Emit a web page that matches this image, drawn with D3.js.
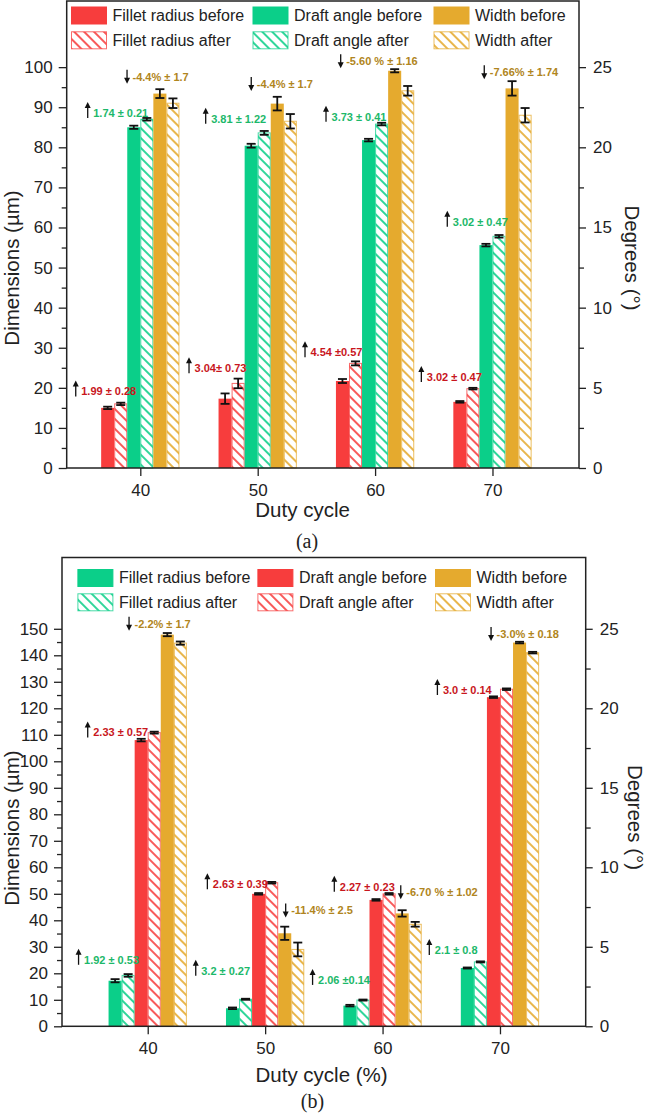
<!DOCTYPE html>
<html lang="en">
<head>
<meta charset="UTF-8">
<title>Dimensions vs duty cycle</title>
<style>
  body { margin: 0; background: #fff; }
  svg { display: block; font-family: "Liberation Sans", Arial, sans-serif; }
</style>
</head>
<body>
<div id="chart"></div>
<script src="https://cdn.jsdelivr.net/npm/d3@7"></script>
<script>
  // ---- shared ----
  const dutyCycles = [40, 50, 60, 70];
  const seriesNames = ["Fillet radius before", "Fillet radius after", "Draft angle before",
    "Draft angle after", "Width before", "Width after"];
  const rightTicks = [0, 5, 10, 15, 20, 25];
  const rightMinor = [2.5, 7.5, 12.5, 17.5, 22.5];

  // ---- panel (a) : fillet/width in µm, draft angle in degrees ----
  const aFilletBefore = [15.0, 17.3, 21.7, 16.5];
  const aFilletBeforeErr = [0.3, 1.3, 0.5, 0.2];
  const aFilletAfter = [16.0, 21.1, 26.1, 19.8];
  const aFilletAfterErr = [0.3, 1.2, 0.5, 0.2];
  const aDraftBefore = [21.25, 20.1, 20.45, 13.9];
  const aDraftBeforeErr = [0.1, 0.12, 0.08, 0.08];
  const aDraftAfter = [21.75, 20.9, 21.45, 14.45];
  const aDraftAfterErr = [0.08, 0.12, 0.08, 0.08];
  const aWidthBefore = [93.4, 90.9, 99.1, 94.7];
  const aWidthBeforeErr = [1.1, 1.7, 0.4, 1.8];
  const aWidthAfter = [91.0, 86.5, 94.1, 88.0];
  const aWidthAfterErr = [1.2, 1.8, 1.2, 1.8];
  const aLeftTicks = [0, 10, 20, 30, 40, 50, 60, 70, 80, 90, 100];
  const aLeftMinor = [5, 15, 25, 35, 45, 55, 65, 75, 85, 95];

  const aWidthNotes = ["-4.4%  \u00b1 1.7", "-4.4%  \u00b1 1.7", "-5.60 % \u00b1 1.16", "-7.66% \u00b1 1.74"];
  const aWidthNoteX = [38.87, 49.45, 57.07, 69.30];
  const aWidthNoteY = [97.6, 95.8, 101.5, 98.7];
  const aDraftNotes = ["1.74 \u00b1 0.21", "3.81 \u00b1 1.22", "3.73 \u00b1 0.41", "3.02 \u00b1 0.47"];
  const aDraftNoteX = [35.52, 45.57, 55.82, 66.15];
  const aDraftNoteY = [88.55, 87.1, 87.6, 61.4];
  const aFilletNotes = ["1.99 \u00b1 0.28", "3.04\u00b1 0.73", "4.54 \u00b10.57", "3.02 \u00b1 0.47"];
  const aFilletNoteX = [34.50, 44.15, 54.03, 63.94];
  const aFilletNoteY = [19.1, 24.9, 28.9, 22.7];

  // ---- panel (b) ----
  const bFilletBefore = [17.2, 6.8, 7.8, 22.0];
  const bFilletBeforeErr = [0.6, 0.3, 0.3, 0.2];
  const bFilletAfter = [19.2, 10.2, 9.9, 24.3];
  const bFilletAfterErr = [0.5, 0.2, 0.2, 0.2];
  const bDraftBefore = [18.0, 8.33, 7.95, 20.7];
  const bDraftBeforeErr = [0.08, 0.05, 0.05, 0.05];
  const bDraftAfter = [18.47, 9.03, 8.33, 21.2];
  const bDraftAfterErr = [0.06, 0.05, 0.05, 0.05];
  const bWidthBefore = [147.8, 35.1, 42.6, 144.8];
  const bWidthBeforeErr = [0.6, 2.5, 1.2, 0.3];
  const bWidthAfter = [144.6, 29.0, 38.5, 141.0];
  const bWidthAfterErr = [0.6, 2.6, 0.9, 0.3];
  const bLeftTicks = [0, 10, 20, 30, 40, 50, 60, 70, 80, 90, 100, 110, 120, 130, 140, 150];
  const bLeftMinor = [5, 15, 25, 35, 45, 55, 65, 75, 85, 95, 105, 115, 125, 135, 145];

  const bWidthNotes = ["-2.2%  \u00b1 1.7", "-11.4% \u00b1 2.5", "-6.70 % \u00b1 1.02", "-3.0% \u00b1 0.18"];
  const bWidthNoteX = [38.41, 51.75, 61.55, 69.24];
  const bWidthNoteY = [151.9, 43.7, 50.6, 148.0];
  const bDraftNotes = ["2.33 \u00b1 0.57", "2.63 \u00b1 0.39", "2.27 \u00b1 0.23", "3.0 \u00b1 0.14"];
  const bDraftNoteX = [34.89, 45.08, 55.89, 64.67];
  const bDraftNoteY = [110.9, 53.6, 52.7, 126.9];
  const bFilletNotes = ["1.92 \u00b1 0.53", "3.2 \u00b1 0.27", "2.06 \u00b10.14", "2.1 \u00b1  0.8"];
  const bFilletNoteX = [34.11, 44.09, 54.04, 63.98];
  const bFilletNoteY = [25.1, 21.0, 17.5, 28.8];

  const colors = { red: "#f73d3d", green: "#0bcf89", gold: "#e5aa2e" };
  const noteColors = { red: "#c8161d", green: "#1cb86a", gold: "#b08520" };
  const ink = "#222";

  const svg = d3.select("#chart").append("svg")
    .attr("width", 649)
    .attr("height", 1116);

  // hatch patterns for the "after" bars
  const defs = svg.append("defs");
  Object.keys(colors).forEach(function(name) {
    const p = defs.append("pattern")
      .attr("id", "hatch-" + name)
      .attr("patternUnits", "userSpaceOnUse")
      .attr("width", 7).attr("height", 7)
      .attr("patternTransform", "rotate(-45)");
    p.append("rect").attr("width", 7).attr("height", 7).attr("fill", "#fff");
    p.append("line")
      .attr("x1", 2).attr("y1", 0).attr("x2", 2).attr("y2", 7)
      .attr("stroke", colors[name]).attr("stroke-width", 1.7);
  });

  function drawPanel(p) {
    const g = svg.append("g");

    const x = d3.scaleLinear().domain(p.xDomain).range([p.left, p.right]);
    const yL = d3.scaleLinear().domain([0, p.leftMax]).range([p.bottom, p.top]);
    const yR = d3.scaleLinear().domain([0, p.leftMax / p.ratio]).range([p.bottom, p.top]);
    const band = d3.scaleBand().domain(seriesNames).range([-3.335, 3.335]);
    const bw = x(40 + band.bandwidth()) - x(40);

    // bars
    p.series.forEach(function(s, k) {
      const y = s.axis === "left" ? yL : yR;
      const bars = g.append("g");
      bars.selectAll("rect")
        .data(s.values)
        .join("rect")
        .attr("x", (d, i) => x(dutyCycles[i] + band(seriesNames[k])) + (s.hatch ? 0.5 : 0))
        .attr("y", d => y(d))
        .attr("width", bw - (s.hatch ? 1 : 0))
        .attr("height", d => p.bottom - y(d))
        .attr("fill", s.hatch ? "url(#hatch-" + s.color + ")" : colors[s.color])
        .attr("stroke", s.hatch ? colors[s.color] : "none")
        .attr("stroke-opacity", 0.75)
        .attr("stroke-width", 1);

      // error bars
      const eb = g.append("g").attr("stroke", "#111").attr("stroke-width", 1.8);
      s.values.forEach(function(v, i) {
        const cx = x(dutyCycles[i] + band(seriesNames[k])) + bw / 2;
        const e = s.err[i];
        eb.append("line").attr("x1", cx).attr("x2", cx).attr("y1", y(v - e)).attr("y2", y(v + e));
        eb.append("line").attr("x1", cx - 4.5).attr("x2", cx + 4.5).attr("y1", y(v - e)).attr("y2", y(v - e));
        eb.append("line").attr("x1", cx - 4.5).attr("x2", cx + 4.5).attr("y1", y(v + e)).attr("y2", y(v + e));
      });
    });

    // frame
    g.append("rect")
      .attr("x", p.left).attr("y", p.top)
      .attr("width", p.right - p.left).attr("height", p.bottom - p.top)
      .attr("fill", "none").attr("stroke", ink).attr("stroke-width", 1.5);

    function style(ax) {
      ax.select(".domain").remove();
      ax.attr("font-family", null).attr("font-size", null);
      ax.selectAll("line").attr("stroke", ink).attr("stroke-width", 1.3);
      ax.selectAll("text").attr("fill", ink).style("font-size", "17px");
    }

    style(g.append("g").attr("transform", "translate(" + p.left + ",0)")
      .call(d3.axisLeft(yL).tickValues(p.leftTicks).tickSize(8).tickPadding(6)));
    style(g.append("g").attr("transform", "translate(" + p.left + ",0)")
      .call(d3.axisLeft(yL).tickValues(p.leftMinor).tickSize(5).tickFormat("")));
    style(g.append("g").attr("transform", "translate(" + p.right + ",0)")
      .call(d3.axisRight(yR).tickValues(rightTicks).tickSize(7).tickPadding(7)));
    style(g.append("g").attr("transform", "translate(" + p.right + ",0)")
      .call(d3.axisRight(yR).tickValues(rightMinor).tickSize(5).tickFormat("")));
    style(g.append("g").attr("transform", "translate(0," + p.bottom + ")")
      .call(d3.axisBottom(x).tickValues(dutyCycles).tickSize(8).tickPadding(7.5)));

    // axis titles
    g.append("text")
      .attr("transform", "translate(18.5," + p.leftTitleY + ") rotate(-90)")
      .attr("text-anchor", "middle").attr("fill", ink).style("font-size", "20.5px")
      .text("Dimensions (\u00b5m)");
    g.append("text")
      .attr("transform", "translate(" + p.rightTitleX + "," + p.rightTitleY + ") rotate(90)")
      .attr("text-anchor", "middle").attr("fill", ink).style("font-size", "20.5px")
      .text("Degrees (\u00b0)");
    g.append("text")
      .attr("x", p.xTitleX).attr("y", p.xTitleY)
      .attr("text-anchor", "middle").attr("fill", ink).style("font-size", "20.5px")
      .text(p.xTitle);
    g.append("text")
      .attr("x", p.tagX).attr("y", p.tagY)
      .attr("text-anchor", "middle").attr("fill", ink)
      .style("font-family", "'Liberation Serif', 'Times New Roman', serif").style("font-size", "20px")
      .text(p.tag);

    // legend: 3 columns, before on first row, after on second
    p.series.forEach(function(s, k) {
      const col = Math.floor(k / 2), row = k % 2;
      const sx = p.legendX[col], sy = p.legendY[row];
      g.append("rect")
        .attr("x", sx + 0.5).attr("y", sy + 0.5).attr("width", 35).attr("height", 17)
        .attr("fill", s.hatch ? "url(#hatch-" + s.color + ")" : colors[s.color])
        .attr("stroke", colors[s.color])
        .attr("stroke-opacity", s.hatch ? 0.75 : 1);
      g.append("text")
        .attr("x", sx + 41.5).attr("y", sy + 14.2)
        .attr("fill", ink).style("font-size", "16px")
        .text(seriesNames[k]);
    });

    // change annotations with arrows
    p.notes.forEach(function(n) {
      n.texts.forEach(function(t, i) {
        const ax = x(n.xs[i]), cy = yL(n.ys[i]);
        const a = g.append("g").attr("fill", "#111").attr("stroke", "#111");
        if (n.dir === "up") {
          a.append("line").attr("x1", ax).attr("x2", ax).attr("y1", cy + 5).attr("y2", cy - 6).attr("stroke-width", 1.3);
          a.append("path").attr("stroke", "none")
            .attr("d", "M" + (ax - 3) + "," + (cy - 5) + "L" + (ax + 3) + "," + (cy - 5) + "L" + ax + "," + (cy - 11) + "Z");
        } else {
          a.append("line").attr("x1", ax).attr("x2", ax).attr("y1", cy - 7).attr("y2", cy + 2).attr("stroke-width", 1.3);
          a.append("path").attr("stroke", "none")
            .attr("d", "M" + (ax - 3) + "," + (cy + 1) + "L" + (ax + 3) + "," + (cy + 1) + "L" + ax + "," + (cy + 7) + "Z");
        }
        g.append("text")
          .attr("x", ax + 5.5).attr("y", cy).attr("dy", "0.36em")
          .attr("fill", noteColors[n.color])
          .style("font-size", "11px").style("font-weight", "bold")
          .text(t);
      });
    });
  }

  drawPanel({
    top: 1, bottom: 468, left: 66.7, right: 579,
    xDomain: [33.73, 77.37], leftMax: 116.5, ratio: 4,
    leftTicks: aLeftTicks, leftMinor: aLeftMinor,
    leftTitleY: 268, rightTitleX: 625, rightTitleY: 258,
    xTitle: "Duty cycle", xTitleX: 302.6, xTitleY: 517,
    tag: "(a)", tagX: 307, tagY: 548,
    legendX: [71, 252.5, 433.5], legendY: [6.5, 31.3],
    series: [
      { values: aFilletBefore, err: aFilletBeforeErr, axis: "left", color: "red", hatch: false },
      { values: aFilletAfter, err: aFilletAfterErr, axis: "left", color: "red", hatch: true },
      { values: aDraftBefore, err: aDraftBeforeErr, axis: "right", color: "green", hatch: false },
      { values: aDraftAfter, err: aDraftAfterErr, axis: "right", color: "green", hatch: true },
      { values: aWidthBefore, err: aWidthBeforeErr, axis: "left", color: "gold", hatch: false },
      { values: aWidthAfter, err: aWidthAfterErr, axis: "left", color: "gold", hatch: true }
    ],
    notes: [
      { texts: aWidthNotes, xs: aWidthNoteX, ys: aWidthNoteY, dir: "down", color: "gold" },
      { texts: aDraftNotes, xs: aDraftNoteX, ys: aDraftNoteY, dir: "up", color: "green" },
      { texts: aFilletNotes, xs: aFilletNoteX, ys: aFilletNoteY, dir: "up", color: "red" }
    ]
  });

  drawPanel({
    top: 557.5, bottom: 1026.3, left: 62, right: 585.7,
    xDomain: [32.7, 77.3], leftMax: 176.9, ratio: 6,
    leftTicks: bLeftTicks, leftMinor: bLeftMinor,
    leftTitleY: 828, rightTitleX: 628, rightTitleY: 817.5,
    xTitle: "Duty cycle (%)", xTitleX: 321.6, xTitleY: 1081.5,
    tag: "(b)", tagX: 312.5, tagY: 1108,
    legendX: [77.4, 257.4, 435], legendY: [569, 593.3],
    series: [
      { values: bFilletBefore, err: bFilletBeforeErr, axis: "left", color: "green", hatch: false },
      { values: bFilletAfter, err: bFilletAfterErr, axis: "left", color: "green", hatch: true },
      { values: bDraftBefore, err: bDraftBeforeErr, axis: "right", color: "red", hatch: false },
      { values: bDraftAfter, err: bDraftAfterErr, axis: "right", color: "red", hatch: true },
      { values: bWidthBefore, err: bWidthBeforeErr, axis: "left", color: "gold", hatch: false },
      { values: bWidthAfter, err: bWidthAfterErr, axis: "left", color: "gold", hatch: true }
    ],
    notes: [
      { texts: bWidthNotes, xs: bWidthNoteX, ys: bWidthNoteY, dir: "down", color: "gold" },
      { texts: bDraftNotes, xs: bDraftNoteX, ys: bDraftNoteY, dir: "up", color: "red" },
      { texts: bFilletNotes, xs: bFilletNoteX, ys: bFilletNoteY, dir: "up", color: "green" }
    ]
  });
</script>
</body>
</html>
